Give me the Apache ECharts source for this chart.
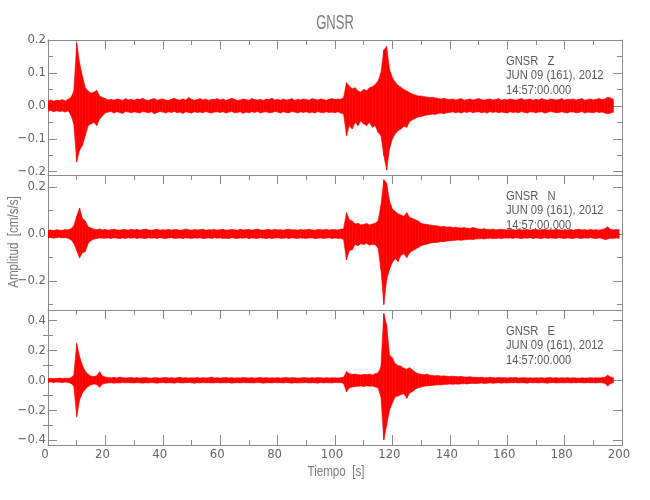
<!DOCTYPE html>
<html>
<head>
<meta charset="utf-8">
<script src="https://cdn.jsdelivr.net/npm/echarts@6/dist/echarts.min.js"></script>
<style>html,body{margin:0;padding:0;background:#fff}#c{width:650px;height:500px}</style>
</head>
<body>
<div id="c"></div>
<script>
// ---- data (amplitudes in 0.001 cm/s/s: upper and lower envelope per 1 s bin) ----
const BIN_S = 1;          // bin width in seconds
const UNIT = 0.001;       // value unit in cm/s/s
const title = 'GNSR';
const xName = 'Tiempo  [s]';
const yName = 'Amplitud  [cm/s/s]';
const stationLabels = ['GNSR   Z', 'GNSR   N', 'GNSR   E'];
const dateLabel = 'JUN 09 (161), 2012';
const timeLabel = '14:57:00.000';
const xTicks = [0, 200, 20];

const zMax = [
15,18,14,17,16,19,15,20,25,45,
190,130,90,55,45,38,42,47,30,25,
22,18,20,17,21,19,16,22,18,20,
17,21,19,23,18,16,20,22,17,19,
21,18,16,20,23,19,17,21,18,25,
20,17,19,22,18,21,16,20,19,22,
18,21,17,19,23,20,16,18,21,19,
17,22,19,18,20,16,21,19,23,18,
20,17,21,18,19,22,16,20,18,21,
19,17,22,20,18,21,19,17,20,22,
19,21,20,25,70,60,52,55,45,42,
50,46,55,58,65,75,100,170,180,110,
85,72,62,56,50,45,40,36,33,30,
30,28,27,25,26,24,22,21,23,20,
19,21,18,20,22,17,19,21,18,20,
22,19,17,20,21,18,19,22,17,20,
18,21,19,17,20,22,18,19,21,17,
20,18,22,19,17,21,20,18,19,22,
17,20,19,21,18,20,22,17,19,21,
18,20,22,19,21,26,24,20];
const zMin = [
-16,-14,-18,-15,-17,-16,-19,-15,-28,-55,
-170,-135,-120,-90,-60,-55,-50,-60,-40,-30,
-21,-19,-17,-22,-18,-20,-23,-17,-19,-21,
-18,-20,-22,-17,-19,-21,-18,-24,-20,-17,
-19,-22,-18,-20,-17,-21,-19,-23,-18,-20,
-22,-18,-20,-19,-21,-17,-20,-22,-19,-18,
-20,-18,-22,-19,-17,-21,-20,-18,-23,-19,
-21,-18,-20,-17,-22,-19,-18,-21,-20,-17,
-19,-22,-18,-20,-21,-17,-19,-22,-18,-20,
-18,-21,-19,-22,-17,-20,-21,-18,-20,-19,
-21,-18,-22,-25,-90,-60,-70,-50,-60,-45,
-55,-60,-50,-65,-60,-80,-90,-150,-195,-130,
-100,-85,-75,-70,-62,-65,-48,-42,-38,-34,
-32,-30,-28,-27,-25,-26,-23,-22,-24,-21,
-20,-18,-21,-19,-22,-18,-20,-17,-21,-19,
-18,-21,-19,-22,-17,-20,-18,-21,-19,-20,
-22,-18,-20,-19,-21,-17,-20,-22,-18,-19,
-21,-19,-18,-22,-20,-17,-19,-21,-20,-18,
-20,-22,-18,-19,-21,-20,-17,-22,-19,-20,
-21,-18,-20,-19,-22,-24,-22,-19];

const nMax = [
15,17,14,18,16,15,19,17,22,35,
75,110,65,55,30,25,20,18,21,17,
19,16,18,20,17,15,19,18,16,20,
17,19,16,18,21,17,15,18,20,16,
18,17,20,16,19,18,15,17,21,18,
16,19,17,18,20,15,18,17,19,16,
18,20,16,17,19,18,15,20,17,18,
19,16,18,21,17,15,18,19,16,20,
17,18,16,19,20,17,18,15,19,17,
18,20,17,16,19,18,17,20,16,19,
18,17,20,22,90,60,55,42,45,38,
40,44,38,42,45,55,120,230,215,140,
105,95,85,80,75,90,70,65,60,55,
45,42,40,38,36,35,33,30,32,28,
30,27,28,26,25,27,24,23,27,24,
21,20,22,19,18,21,17,19,20,18,
17,19,18,16,20,17,18,19,16,18,
19,17,18,20,16,18,17,19,18,16,
18,17,19,16,18,20,17,18,16,19,
17,18,16,19,22,30,20,17,19,18];
const nMin = [
-17,-15,-18,-16,-14,-17,-16,-18,-25,-40,
-70,-102,-80,-75,-40,-28,-22,-19,-17,-18,
-18,-17,-19,-16,-18,-20,-17,-19,-16,-18,
-16,-19,-17,-18,-20,-16,-18,-17,-19,-16,
-18,-20,-17,-16,-19,-18,-17,-20,-16,-18,
-19,-17,-18,-16,-20,-18,-17,-19,-16,-18,
-17,-19,-18,-20,-16,-18,-19,-17,-18,-16,
-20,-17,-18,-19,-16,-18,-20,-17,-19,-18,
-16,-19,-18,-17,-20,-16,-18,-19,-17,-18,
-19,-17,-16,-20,-18,-17,-19,-18,-16,-20,
-17,-19,-18,-24,-110,-70,-67,-45,-50,-42,
-45,-40,-48,-44,-46,-60,-150,-300,-195,-150,
-120,-105,-117,-90,-85,-100,-80,-72,-65,-58,
-50,-46,-44,-40,-38,-36,-35,-32,-33,-30,
-30,-28,-27,-26,-27,-25,-24,-23,-24,-22,
-21,-20,-22,-19,-18,-20,-19,-18,-20,-17,
-18,-17,-19,-16,-18,-20,-17,-18,-16,-19,
-17,-18,-20,-16,-19,-17,-18,-19,-16,-18,
-19,-17,-18,-20,-16,-18,-19,-17,-18,-16,
-18,-20,-17,-19,-24,-22,-18,-19,-17,-18];

const eMax = [
12,14,11,13,15,12,14,13,18,35,
248,158,100,60,40,28,25,30,58,28,
22,18,17,19,16,22,18,15,17,19,
16,18,15,17,19,16,14,18,17,15,
17,19,16,18,15,17,20,16,18,15,
17,16,19,15,18,16,17,22,16,18,
15,17,19,16,18,15,17,16,19,17,
16,18,15,17,19,16,18,15,17,16,
18,15,17,19,16,18,17,15,16,18,
17,15,18,16,19,17,15,18,16,17,
17,15,18,20,58,45,40,42,38,35,
40,38,42,36,45,50,90,450,370,170,
150,110,100,95,80,75,85,70,55,45,
40,38,42,35,33,30,32,28,30,27,
26,28,25,24,26,23,22,24,21,20,
19,21,18,17,20,18,16,19,17,18,
16,18,17,19,15,17,18,16,17,15,
17,16,18,15,17,19,16,18,15,17,
16,18,15,17,16,14,17,15,16,18,
15,17,16,18,20,35,22,18];
const eMin = [
-13,-11,-14,-12,-13,-15,-12,-14,-20,-40,
-244,-132,-85,-60,-40,-30,-25,-28,-47,-25,
-20,-18,-16,-19,-17,-18,-15,-17,-16,-17,
-18,-15,-17,-19,-16,-18,-15,-17,-19,-16,
-15,-18,-16,-17,-19,-15,-17,-18,-16,-15,
-17,-19,-16,-18,-15,-17,-16,-18,-17,-15,
-18,-16,-17,-15,-19,-17,-16,-18,-15,-17,
-16,-18,-17,-15,-16,-19,-17,-16,-18,-15,
-17,-16,-18,-15,-17,-19,-16,-18,-17,-16,
-15,-18,-16,-17,-19,-15,-18,-16,-17,-18,
-14,-16,-15,-22,-77,-50,-45,-42,-40,-38,
-42,-36,-40,-38,-44,-50,-110,-400,-300,-200,
-150,-110,-105,-95,-90,-120,-85,-75,-60,-50,
-45,-40,-38,-36,-34,-32,-30,-31,-28,-27,
-25,-27,-24,-26,-23,-22,-24,-21,-20,-22,
-20,-18,-21,-19,-17,-20,-18,-16,-19,-17,
-18,-16,-17,-15,-18,-16,-17,-19,-15,-17,
-16,-18,-15,-17,-19,-16,-15,-18,-17,-16,
-17,-15,-18,-16,-17,-15,-16,-18,-15,-17,
-16,-18,-15,-17,-20,-38,-22,-17];

// axis ranges and tick values per panel
const yRanges = [[-0.21, 0.2], [-0.323, 0.25], [-0.434, 0.472]];
const yMajor = [[-0.2, -0.1, 0, 0.1, 0.2], [-0.2, 0, 0.2], [-0.4, -0.2, 0, 0.2, 0.4]];
const yMinor = [[-0.15, -0.05, 0.05, 0.15], [-0.3, -0.1, 0.1], [-0.3, -0.1, 0.1, 0.3]];

// ---- chart ----
const traces = [[zMax, zMin], [nMax, nMin], [eMax, eMin]];
// one item per pair of neighbouring bins: [t0, max0, min0, t1, max1, min1]
function bandItems(hi, lo) {
  const out = [];
  for (let i = 0; i + 1 < hi.length; i++) {
    out.push([i * BIN_S, hi[i] * UNIT, lo[i] * UNIT, (i + 1) * BIN_S, hi[i + 1] * UNIT, lo[i + 1] * UNIT]);
  }
  return out;
}
function renderBand(params, api) {
  const a = api.coord([api.value(0), api.value(1)]);
  const b = api.coord([api.value(3), api.value(4)]);
  const c = api.coord([api.value(3), api.value(5)]);
  const d = api.coord([api.value(0), api.value(2)]);
  return {
    type: 'polygon',
    shape: { points: [a, b, c, d] },
    style: { fill: RED, stroke: RED, lineWidth: 0.6 }
  };
}

const RED = '#ff0000';
const AX = '#8a8a8a';
const LBL = '#666666';
const NARROW = '"Liberation Sans Narrow", "DejaVu Sans Condensed", "Liberation Sans", sans-serif';
const GRID_TOP = [40, 175, 310];
const GRID_H = 135;
const LEFT = 48, RIGHT = 28;

const grid = [], xAxis = [], yAxis = [], series = [], graphic = [];
for (let p = 0; p < 3; p++) {
  grid.push({ left: LEFT, right: RIGHT, top: GRID_TOP[p], height: GRID_H, containLabel: false });
  xAxis.push({
    type: 'value', gridIndex: p, position: 'top', min: xTicks[0], max: xTicks[1], interval: xTicks[2],
    axisLine: { show: true, onZero: false, lineStyle: { color: AX, width: 1 } },
    axisTick: { show: true, inside: true, length: 9, lineStyle: { color: AX } },
    minorTick: { show: true, splitNumber: 2, length: 5, lineStyle: { color: AX } },
    axisLabel: { show: false }, splitLine: { show: false }
  });
  const yBase = { type: 'value', gridIndex: p, min: yRanges[p][0], max: yRanges[p][1], splitLine: { show: false } };
  yAxis.push(Object.assign({}, yBase, {
    position: 'left',
    axisLine: { show: true, onZero: false, lineStyle: { color: AX, width: 1 } },
    axisTick: { show: true, inside: true, length: 9, customValues: yMajor[p], lineStyle: { color: AX } },
    axisLabel: {
      show: true, customValues: yMajor[p], margin: 2, color: LBL, fontSize: 13, fontFamily: NARROW,
      formatter: v => (v < -1e-9 ? '\u2212' : '') + Math.abs(v).toFixed(1)
    }
  }));
  yAxis.push(Object.assign({}, yBase, {
    position: 'left',
    axisLine: { show: false },
    axisTick: { show: true, inside: true, length: 5, customValues: yMinor[p], lineStyle: { color: AX } },
    axisLabel: { show: false }
  }));
  yAxis.push(Object.assign({}, yBase, {
    position: 'right',
    axisLine: { show: true, onZero: false, lineStyle: { color: AX, width: 1 } },
    axisTick: { show: true, inside: true, length: 9, customValues: yMajor[p], lineStyle: { color: AX } },
    axisLabel: { show: false }
  }));
  yAxis.push(Object.assign({}, yBase, {
    position: 'right',
    axisLine: { show: false },
    axisTick: { show: true, inside: true, length: 5, customValues: yMinor[p], lineStyle: { color: AX } },
    axisLabel: { show: false }
  }));
}
xAxis.push({
  type: 'value', gridIndex: 2, position: 'bottom', min: xTicks[0], max: xTicks[1], interval: xTicks[2],
  axisLine: { show: true, onZero: false, lineStyle: { color: AX, width: 1 } },
  axisTick: { show: true, inside: true, length: 10, lineStyle: { color: AX } },
  minorTick: { show: true, splitNumber: 2, length: 5, lineStyle: { color: AX } },
  axisLabel: { show: true, margin: 3, color: LBL, fontSize: 13, fontFamily: NARROW, padding: [0, 6, 0, 0] },
  splitLine: { show: false }
});

for (let p = 0; p < 3; p++) {
  series.push({
    type: 'custom', xAxisIndex: p, yAxisIndex: p * 4,
    data: bandItems(traces[p][0], traces[p][1]),
    encode: { x: [0, 3], y: [1, 2, 4, 5] },
    renderItem: renderBand, clip: true, z: 3, silent: true, animation: false
  });
  const offs = [21, 35.5, 50];
  const texts = [stationLabels[p], dateLabel, timeLabel];
  for (let k = 0; k < 3; k++) {
    graphic.push({
      type: 'text', x: 506, y: GRID_TOP[p] + offs[k], scaleX: 0.86, z: 10,
      style: { text: texts[k], font: '13px "Liberation Sans"', fill: '#5a5a5a',
               textAlign: 'left', textVerticalAlign: 'middle', align: 'left', verticalAlign: 'middle' }
    });
  }
}
graphic.push({
  type: 'text', x: 335, y: 23, scaleX: 0.62, z: 10,
  style: { text: title, font: '21px "Liberation Sans"', fill: '#7a7a7a',
           textAlign: 'center', textVerticalAlign: 'middle', align: 'center', verticalAlign: 'middle' }
});
graphic.push({
  type: 'text', x: 336, y: 472, scaleX: 0.83, z: 10,
  style: { text: xName, font: '14px "Liberation Sans"', fill: '#7a7a7a',
           textAlign: 'center', textVerticalAlign: 'middle', align: 'center', verticalAlign: 'middle' }
});
graphic.push({
  type: 'text', x: 14, y: 242, rotation: Math.PI / 2, scaleX: 0.83, z: 10,
  style: { text: yName, font: '14px "Liberation Sans"', fill: '#7a7a7a',
           textAlign: 'center', textVerticalAlign: 'middle', align: 'center', verticalAlign: 'middle' }
});

const chart = echarts.init(document.getElementById('c'), null, { renderer: 'canvas' });
chart.setOption({
  animation: false,
  backgroundColor: '#ffffff',
  grid, xAxis, yAxis, series, graphic
});
</script>
</body>
</html>
